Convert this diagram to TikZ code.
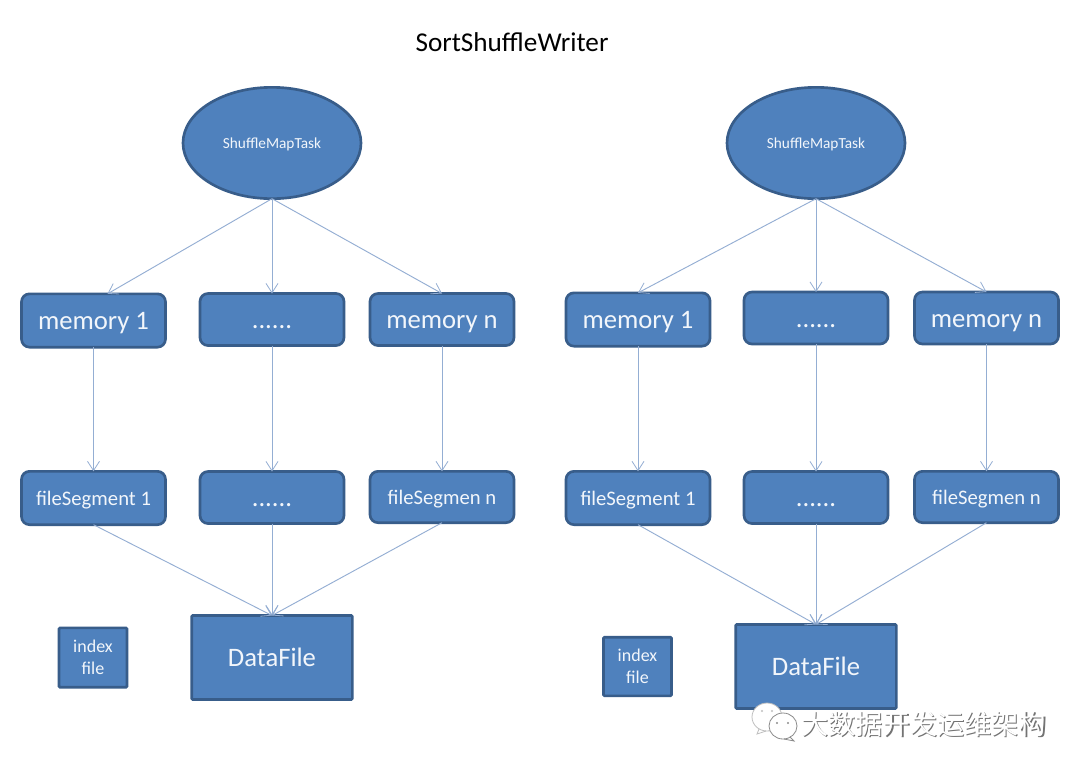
\documentclass[tikz,border=0pt]{standalone}
\usepackage{fontspec}
\setmainfont{Carlito}
\newfontfamily\cjk{Noto Sans CJK SC}
\usetikzlibrary{shapes.geometric,arrows.meta}
\definecolor{boxfill}{HTML}{4F81BD}
\definecolor{boxline}{HTML}{385D8A}
\definecolor{linkc}{HTML}{94AED3}
\definecolor{lighttext}{HTML}{F2F6FB}
\tikzset{
  x=0.75pt,y=-0.75pt,
  every node/.style={inner sep=0pt,outer sep=0pt},
  shape base/.style={fill=boxfill,draw=boxline,line width=2pt,text=lighttext,align=center},
  taskell/.style={shape base,ellipse,minimum width=133.5pt,minimum height=83.5pt,text height=8.5pt,text depth=1pt,font=\fontsize{11.5}{14}\selectfont},
  roundbox/.style={shape base,rectangle,rounded corners=6pt,minimum width=108pt},
  memfont/.style={font=\fontsize{20}{24}\selectfont,text height=14.5pt,text depth=1pt},
  segfont/.style={font=\fontsize{15.5}{18}\selectfont,text height=12pt,text depth=1.5pt},
  datafile/.style={shape base,rectangle,rounded corners=0.8pt,minimum width=120.5pt,minimum height=63pt,text height=14pt,text depth=1.2pt,font=\fontsize{20}{24}\selectfont},
  indexbox/.style={shape base,rectangle,rounded corners=0.8pt,minimum width=51pt,font=\fontsize{13.5}{16.5}\selectfont},
  link/.style={draw=linkc,line width=0.7pt,-{Straight Barb[length=7pt,width=9pt,line width=0.6pt]}},
}
\begin{document}
\begin{tikzpicture}
\useasboundingbox (0,0) rectangle (1080,772);
\fill[white] (0,0) rectangle (1080,772);

\node[font=\fontsize{20.4}{24}\selectfont,text=black] (title) at (512,42) {SortShuffleWriter};

% left group
\node[taskell] (ltask) at (272,143) {ShuffleMapTask};
\node[roundbox,minimum height=40pt,memfont] (lm1) at (93.5,320.5) {memory 1};
\node[roundbox,minimum height=39pt,memfont] (lm2) at (272,319.5) {......};
\node[roundbox,minimum height=39pt,memfont] (lm3) at (442,319.5) {memory n};
\node[roundbox,minimum height=40pt,segfont] (ls1) at (93.5,498) {fileSegment 1};
\node[roundbox,minimum height=39pt,memfont] (ls2) at (272,497.5) {......};
\node[roundbox,minimum height=38.5pt,segfont] (ls3) at (442,497) {fileSegmen n};
\node[datafile] (ldata) at (272,657.5) {DataFile};
\node[indexbox,minimum height=44.5pt] (lidx) at (93,657.5) {index\\file};
\coordinate (lm1in) at ([xshift=10.5pt]lm1.north);

\draw[link] (ltask.south) -- (lm1in);
\draw[link] (ltask.south) -- (lm2.north);
\draw[link] (ltask.south) -- (lm3.north);
\draw[link] (lm1) -- (ls1);
\draw[link] (lm2) -- (ls2);
\draw[link] (lm3) -- (ls3);
\draw[link] (ls1.south) -- (ldata.north);
\draw[link] (ls2.south) -- (ldata.north);
\draw[link] (ls3.south) -- (ldata.north);

% right group
\node[taskell] (rtask) at (816,143) {ShuffleMapTask};
\node[roundbox,minimum height=40pt,memfont] (rm1) at (638,319.5) {memory 1};
\node[roundbox,minimum height=39pt,memfont] (rm2) at (816,318) {......};
\node[roundbox,minimum height=39pt,memfont] (rm3) at (986.5,318) {memory n};
\node[roundbox,minimum height=40pt,segfont] (rs1) at (638,498) {fileSegment 1};
\node[roundbox,minimum height=39pt,memfont] (rs2) at (816,497.5) {......};
\node[roundbox,minimum height=38.5pt,segfont] (rs3) at (986.5,497) {fileSegmen n};
\node[datafile] (rdata) at (816,666.5) {DataFile};
\node[indexbox,minimum height=44pt] (ridx) at (637.5,666.5) {index\\file};

\draw[link] (rtask.south) -- (rm1.north);
\draw[link] (rtask.south) -- (rm2.north);
\draw[link] (rtask.south) -- (rm3.north);
\draw[link] (rm1) -- (rs1);
\draw[link] (rm2) -- (rs2);
\draw[link] (rm3) -- (rs3);
\draw[link] (rs1.south) -- (rdata.north);
\draw[link] (rs2.south) -- (rdata.north);
\draw[link] (rs3.south) -- (rdata.north);

% watermark
\begin{scope}[line width=0.6pt]
  \draw[fill=white,draw=black!25] (767,717) ellipse [x radius=15,y radius=14];
  \draw[draw=black!25] (759,729) -- (757,734) -- (766,731);
  \draw[fill=white,draw=black!45] (783,726) ellipse [x radius=14,y radius=13];
  \draw[draw=black!45] (790,737) -- (794,741) -- (784,739);
  \fill[black!45] (777,723) circle (1.1) (788,723) circle (1.1);
  \fill[black!25] (762,711) circle (1.1) (772,711) circle (1.1);
\end{scope}
\node[text=black!55,font=\cjk\fontsize{20.4}{24}\selectfont] (wmshade) at (924.8,725) {大数据开发运维架构};
\node[text=white,font=\cjk\fontsize{20.4}{24}\selectfont] (wmark) at (923.6,724) {大数据开发运维架构};
\end{tikzpicture}
\end{document}
